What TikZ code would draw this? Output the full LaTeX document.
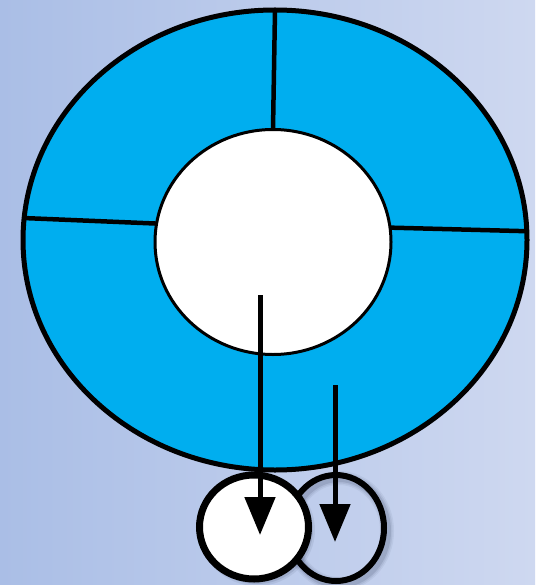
\documentclass[tikz,border=0pt]{standalone}
\usetikzlibrary{shapes.geometric,arrows.meta}
\definecolor{bgleft}{RGB}{170,190,230}
\definecolor{bgright}{RGB}{206,216,240}
\definecolor{ringblue}{RGB}{0,174,239}
\definecolor{shadowc}{RGB}{30,40,70}
\tikzset{
  ring/.style={ellipse, draw=black, line width=5pt, fill=ringblue, inner sep=0pt, outer sep=0pt},
  hole/.style={ellipse, draw=black, line width=3pt, fill=white, inner sep=0pt, outer sep=0pt},
  bead/.style={ellipse, draw=black, inner sep=0pt, outer sep=0pt},
  divider/.style={line width=4.5pt, draw=black},
  flow/.style={line width=5pt, draw=black, -{Triangle[length=38pt,width=30pt]}}
}
\begin{document}
\begin{tikzpicture}[x=1pt,y=-1pt]
\useasboundingbox (0,0) rectangle (535,585);
\shade[left color=bgleft, right color=bgright] (0,0) rectangle (535,585);
% soft shadows of the beads
\foreach \w/\o in {14/0.06,11/0.08,8/0.12}{
  \draw[draw=shadowc, line width=\w pt, opacity=\o] (339,531) ellipse [x radius=48pt, y radius=53pt];
}
\foreach \w/\o in {8/0.08,4/0.12}{
  \fill[shadowc, opacity=\o] (257,530) ellipse [x radius=54pt+\w pt/2, y radius=52pt+\w pt/2];
}
% beads
\node[bead, line width=6pt, minimum width=96pt, minimum height=106pt] (b2) at (336,528) {};
\node[bead, line width=7pt, fill=white, minimum width=109pt, minimum height=104pt] (b1) at (254,527) {};
% ring
\node[ring, minimum width=504pt, minimum height=460pt] (outer) at (275,240) {};
\node[hole, minimum width=236pt, minimum height=225pt] (inner) at (273,242) {};
\draw[divider] (outer.north) -- (inner.north);
\draw[divider] (outer.175.5) -- (inner.171);
\draw[divider] (outer.2.6) -- (inner.7.4);
% arrows
\coordinate (s1) at (260,295);
\coordinate (e1) at (260,535);
\coordinate (s2) at (335,385);
\coordinate (e2) at (335,542);
\draw[flow] (s1) -- (e1);
\draw[flow] (s2) -- (e2);
\end{tikzpicture}
\end{document}
